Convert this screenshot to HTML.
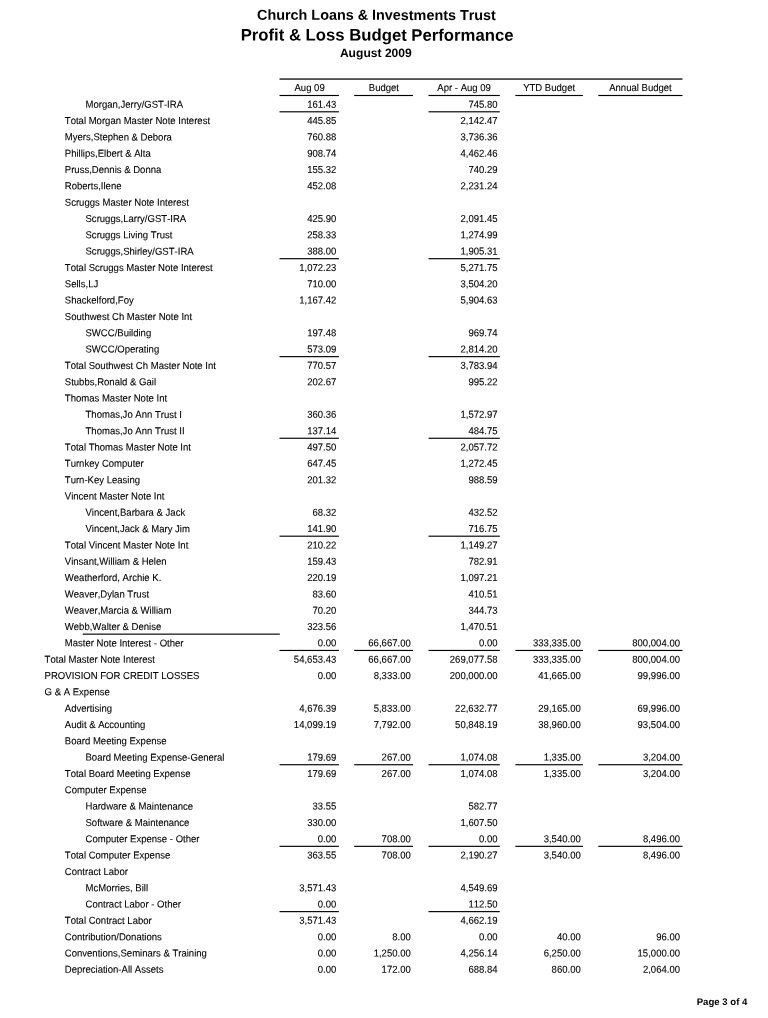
<!DOCTYPE html>
<html lang="en"><head><meta charset="utf-8"><title>Profit &amp; Loss Budget Performance</title>
<style>
html,body{margin:0;padding:0;background:#fff;}
body{width:768px;height:1018px;position:relative;overflow:hidden;font-family:"Liberation Sans",Arial,Helvetica,sans-serif;color:#000;font-kerning:none;}
span{position:absolute;display:block;white-space:nowrap;line-height:20px;height:20px;transform-origin:0 50%;-webkit-text-stroke:0.1px #000;}
.b{font-weight:bold;color:#000;-webkit-text-stroke:0;}
svg{position:absolute;left:0;top:0;}
</style></head><body>
<svg width="768" height="1018" viewBox="0 0 768 1018">
<rect x="279.50" y="78.30" width="403.00" height="1.50" fill="#2a2a2a"/>
<rect x="279.50" y="94.92" width="59.40" height="1.15" fill="#000"/>
<rect x="354.20" y="94.92" width="58.80" height="1.15" fill="#000"/>
<rect x="428.50" y="94.92" width="71.30" height="1.15" fill="#000"/>
<rect x="515.40" y="94.92" width="67.50" height="1.15" fill="#000"/>
<rect x="598.30" y="94.92" width="84.20" height="1.15" fill="#000"/>
<rect x="279.50" y="111.22" width="59.40" height="1.15" fill="#000"/>
<rect x="428.50" y="111.22" width="71.30" height="1.15" fill="#000"/>
<rect x="279.50" y="258.13" width="59.40" height="1.15" fill="#000"/>
<rect x="428.50" y="258.13" width="71.30" height="1.15" fill="#000"/>
<rect x="279.50" y="356.07" width="59.40" height="1.15" fill="#000"/>
<rect x="428.50" y="356.07" width="71.30" height="1.15" fill="#000"/>
<rect x="279.50" y="437.69" width="59.40" height="1.15" fill="#000"/>
<rect x="428.50" y="437.69" width="71.30" height="1.15" fill="#000"/>
<rect x="279.50" y="535.62" width="59.40" height="1.15" fill="#000"/>
<rect x="428.50" y="535.62" width="71.30" height="1.15" fill="#000"/>
<rect x="82.70" y="633.56" width="197.10" height="1.15" fill="#000"/>
<rect x="279.50" y="649.88" width="59.40" height="1.15" fill="#000"/>
<rect x="354.20" y="649.88" width="58.80" height="1.15" fill="#000"/>
<rect x="428.50" y="649.88" width="71.30" height="1.15" fill="#000"/>
<rect x="515.40" y="649.88" width="67.50" height="1.15" fill="#000"/>
<rect x="598.30" y="649.88" width="84.20" height="1.15" fill="#000"/>
<rect x="279.50" y="764.15" width="59.40" height="1.15" fill="#000"/>
<rect x="354.20" y="764.15" width="58.80" height="1.15" fill="#000"/>
<rect x="428.50" y="764.15" width="71.30" height="1.15" fill="#000"/>
<rect x="515.40" y="764.15" width="67.50" height="1.15" fill="#000"/>
<rect x="598.30" y="764.15" width="84.20" height="1.15" fill="#000"/>
<rect x="279.50" y="845.76" width="59.40" height="1.15" fill="#000"/>
<rect x="354.20" y="845.76" width="58.80" height="1.15" fill="#000"/>
<rect x="428.50" y="845.76" width="71.30" height="1.15" fill="#000"/>
<rect x="515.40" y="845.76" width="67.50" height="1.15" fill="#000"/>
<rect x="598.30" y="845.76" width="84.20" height="1.15" fill="#000"/>
<rect x="279.50" y="911.05" width="59.40" height="1.15" fill="#000"/>
<rect x="428.50" y="911.05" width="71.30" height="1.15" fill="#000"/>
</svg>
<header>
<span class="b" style="left:257px;top:4px;font-size:14.380px;transform:matrix(1.00000,0.00055,0,1,0.047,0.800);">Church Loans &amp; Investments Trust</span>
<span class="b" style="left:240px;top:25px;font-size:16.720px;transform:matrix(1.00000,0.00055,0,1,0.632,0.550);">Profit &amp; Loss Budget Performance</span>
<span class="b" style="left:339px;top:42px;font-size:12.100px;transform:matrix(1.00000,0.00055,0,1,0.875,0.900);">August 2009</span>
</header>
<main>
<div class="thead">
<span style="left:294px;top:78px;font-size:10.028px;transform:matrix(0.95238,0.00055,0,1,0.466,0.000);">Aug 09</span>
<span style="left:368px;top:78px;font-size:10.028px;transform:matrix(0.95238,0.00055,0,1,0.766,0.000);">Budget</span>
<span style="left:437px;top:78px;font-size:10.028px;transform:matrix(0.95238,0.00055,0,1,0.342,0.000);">Apr - Aug 09</span>
<span style="left:523px;top:78px;font-size:10.028px;transform:matrix(0.95238,0.00055,0,1,0.139,0.000);">YTD Budget</span>
<span style="left:609px;top:78px;font-size:10.028px;transform:matrix(0.95238,0.00055,0,1,0.171,0.000);">Annual Budget</span>
</div>
<div class="row">
<span style="left:85px;top:94px;font-size:10.028px;transform:matrix(0.95238,0.00055,0,1,0.500,0.700);">Morgan,Jerry/GST-IRA</span>
<span style="left:307px;top:94px;font-size:10.028px;transform:matrix(0.95238,0.00055,0,1,0.140,0.700);">161.43</span>
<span style="left:468px;top:94px;font-size:10.028px;transform:matrix(0.95238,0.00055,0,1,0.390,0.700);">745.80</span>
</div>
<div class="row">
<span style="left:64px;top:111px;font-size:10.028px;transform:matrix(0.95238,0.00055,0,1,0.800,0.023);">Total Morgan Master Note Interest</span>
<span style="left:307px;top:111px;font-size:10.028px;transform:matrix(0.95238,0.00055,0,1,0.140,0.023);">445.85</span>
<span style="left:460px;top:111px;font-size:10.028px;transform:matrix(0.95238,0.00055,0,1,0.426,0.023);">2,142.47</span>
</div>
<div class="row">
<span style="left:64px;top:127px;font-size:10.028px;transform:matrix(0.95238,0.00055,0,1,0.800,0.346);">Myers,Stephen &amp; Debora</span>
<span style="left:307px;top:127px;font-size:10.028px;transform:matrix(0.95238,0.00055,0,1,0.140,0.346);">760.88</span>
<span style="left:460px;top:127px;font-size:10.028px;transform:matrix(0.95238,0.00055,0,1,0.426,0.346);">3,736.36</span>
</div>
<div class="row">
<span style="left:64px;top:143px;font-size:10.028px;transform:matrix(0.95238,0.00055,0,1,0.800,0.669);">Phillips,Elbert &amp; Alta</span>
<span style="left:307px;top:143px;font-size:10.028px;transform:matrix(0.95238,0.00055,0,1,0.140,0.669);">908.74</span>
<span style="left:460px;top:143px;font-size:10.028px;transform:matrix(0.95238,0.00055,0,1,0.426,0.669);">4,462.46</span>
</div>
<div class="row">
<span style="left:64px;top:159px;font-size:10.028px;transform:matrix(0.95238,0.00055,0,1,0.800,0.992);">Pruss,Dennis &amp; Donna</span>
<span style="left:307px;top:159px;font-size:10.028px;transform:matrix(0.95238,0.00055,0,1,0.140,0.992);">155.32</span>
<span style="left:468px;top:159px;font-size:10.028px;transform:matrix(0.95238,0.00055,0,1,0.390,0.992);">740.29</span>
</div>
<div class="row">
<span style="left:64px;top:176px;font-size:10.028px;transform:matrix(0.95238,0.00055,0,1,0.800,0.315);">Roberts,Ilene</span>
<span style="left:307px;top:176px;font-size:10.028px;transform:matrix(0.95238,0.00055,0,1,0.140,0.315);">452.08</span>
<span style="left:460px;top:176px;font-size:10.028px;transform:matrix(0.95238,0.00055,0,1,0.426,0.315);">2,231.24</span>
</div>
<div class="row">
<span style="left:64px;top:192px;font-size:10.028px;transform:matrix(0.95238,0.00055,0,1,0.800,0.638);">Scruggs Master Note Interest</span>
</div>
<div class="row">
<span style="left:85px;top:208px;font-size:10.028px;transform:matrix(0.95238,0.00055,0,1,0.500,0.961);">Scruggs,Larry/GST-IRA</span>
<span style="left:307px;top:208px;font-size:10.028px;transform:matrix(0.95238,0.00055,0,1,0.140,0.961);">425.90</span>
<span style="left:460px;top:208px;font-size:10.028px;transform:matrix(0.95238,0.00055,0,1,0.426,0.961);">2,091.45</span>
</div>
<div class="row">
<span style="left:85px;top:225px;font-size:10.028px;transform:matrix(0.95238,0.00055,0,1,0.500,0.284);">Scruggs Living Trust</span>
<span style="left:307px;top:225px;font-size:10.028px;transform:matrix(0.95238,0.00055,0,1,0.140,0.284);">258.33</span>
<span style="left:460px;top:225px;font-size:10.028px;transform:matrix(0.95238,0.00055,0,1,0.426,0.284);">1,274.99</span>
</div>
<div class="row">
<span style="left:85px;top:241px;font-size:10.028px;transform:matrix(0.95238,0.00055,0,1,0.500,0.607);">Scruggs,Shirley/GST-IRA</span>
<span style="left:307px;top:241px;font-size:10.028px;transform:matrix(0.95238,0.00055,0,1,0.140,0.607);">388.00</span>
<span style="left:460px;top:241px;font-size:10.028px;transform:matrix(0.95238,0.00055,0,1,0.426,0.607);">1,905.31</span>
</div>
<div class="row">
<span style="left:64px;top:257px;font-size:10.028px;transform:matrix(0.95238,0.00055,0,1,0.800,0.930);">Total Scruggs Master Note Interest</span>
<span style="left:299px;top:257px;font-size:10.028px;transform:matrix(0.95238,0.00055,0,1,0.176,0.930);">1,072.23</span>
<span style="left:460px;top:257px;font-size:10.028px;transform:matrix(0.95238,0.00055,0,1,0.426,0.930);">5,271.75</span>
</div>
<div class="row">
<span style="left:64px;top:274px;font-size:10.028px;transform:matrix(0.95238,0.00055,0,1,0.800,0.253);">Sells,LJ</span>
<span style="left:307px;top:274px;font-size:10.028px;transform:matrix(0.95238,0.00055,0,1,0.140,0.253);">710.00</span>
<span style="left:460px;top:274px;font-size:10.028px;transform:matrix(0.95238,0.00055,0,1,0.426,0.253);">3,504.20</span>
</div>
<div class="row">
<span style="left:64px;top:290px;font-size:10.028px;transform:matrix(0.95238,0.00055,0,1,0.800,0.576);">Shackelford,Foy</span>
<span style="left:299px;top:290px;font-size:10.028px;transform:matrix(0.95238,0.00055,0,1,0.176,0.576);">1,167.42</span>
<span style="left:460px;top:290px;font-size:10.028px;transform:matrix(0.95238,0.00055,0,1,0.426,0.576);">5,904.63</span>
</div>
<div class="row">
<span style="left:64px;top:306px;font-size:10.028px;transform:matrix(0.95238,0.00055,0,1,0.800,0.899);">Southwest Ch Master Note Int</span>
</div>
<div class="row">
<span style="left:85px;top:323px;font-size:10.028px;transform:matrix(0.95238,0.00055,0,1,0.500,0.222);">SWCC/Building</span>
<span style="left:307px;top:323px;font-size:10.028px;transform:matrix(0.95238,0.00055,0,1,0.140,0.222);">197.48</span>
<span style="left:468px;top:323px;font-size:10.028px;transform:matrix(0.95238,0.00055,0,1,0.390,0.222);">969.74</span>
</div>
<div class="row">
<span style="left:85px;top:339px;font-size:10.028px;transform:matrix(0.95238,0.00055,0,1,0.500,0.545);">SWCC/Operating</span>
<span style="left:307px;top:339px;font-size:10.028px;transform:matrix(0.95238,0.00055,0,1,0.140,0.545);">573.09</span>
<span style="left:460px;top:339px;font-size:10.028px;transform:matrix(0.95238,0.00055,0,1,0.426,0.545);">2,814.20</span>
</div>
<div class="row">
<span style="left:64px;top:355px;font-size:10.028px;transform:matrix(0.95238,0.00055,0,1,0.800,0.868);">Total Southwest Ch Master Note Int</span>
<span style="left:307px;top:355px;font-size:10.028px;transform:matrix(0.95238,0.00055,0,1,0.140,0.868);">770.57</span>
<span style="left:460px;top:355px;font-size:10.028px;transform:matrix(0.95238,0.00055,0,1,0.426,0.868);">3,783.94</span>
</div>
<div class="row">
<span style="left:64px;top:372px;font-size:10.028px;transform:matrix(0.95238,0.00055,0,1,0.800,0.191);">Stubbs,Ronald &amp; Gail</span>
<span style="left:307px;top:372px;font-size:10.028px;transform:matrix(0.95238,0.00055,0,1,0.140,0.191);">202.67</span>
<span style="left:468px;top:372px;font-size:10.028px;transform:matrix(0.95238,0.00055,0,1,0.390,0.191);">995.22</span>
</div>
<div class="row">
<span style="left:64px;top:388px;font-size:10.028px;transform:matrix(0.95238,0.00055,0,1,0.800,0.514);">Thomas Master Note Int</span>
</div>
<div class="row">
<span style="left:85px;top:404px;font-size:10.028px;transform:matrix(0.95238,0.00055,0,1,0.500,0.837);">Thomas,Jo Ann Trust I</span>
<span style="left:307px;top:404px;font-size:10.028px;transform:matrix(0.95238,0.00055,0,1,0.140,0.837);">360.36</span>
<span style="left:460px;top:404px;font-size:10.028px;transform:matrix(0.95238,0.00055,0,1,0.426,0.837);">1,572.97</span>
</div>
<div class="row">
<span style="left:85px;top:421px;font-size:10.028px;transform:matrix(0.95238,0.00055,0,1,0.500,0.160);">Thomas,Jo Ann Trust II</span>
<span style="left:307px;top:421px;font-size:10.028px;transform:matrix(0.95238,0.00055,0,1,0.140,0.160);">137.14</span>
<span style="left:468px;top:421px;font-size:10.028px;transform:matrix(0.95238,0.00055,0,1,0.390,0.160);">484.75</span>
</div>
<div class="row">
<span style="left:64px;top:437px;font-size:10.028px;transform:matrix(0.95238,0.00055,0,1,0.800,0.483);">Total Thomas Master Note Int</span>
<span style="left:307px;top:437px;font-size:10.028px;transform:matrix(0.95238,0.00055,0,1,0.140,0.483);">497.50</span>
<span style="left:460px;top:437px;font-size:10.028px;transform:matrix(0.95238,0.00055,0,1,0.426,0.483);">2,057.72</span>
</div>
<div class="row">
<span style="left:64px;top:453px;font-size:10.028px;transform:matrix(0.95238,0.00055,0,1,0.800,0.806);">Turnkey Computer</span>
<span style="left:307px;top:453px;font-size:10.028px;transform:matrix(0.95238,0.00055,0,1,0.140,0.806);">647.45</span>
<span style="left:460px;top:453px;font-size:10.028px;transform:matrix(0.95238,0.00055,0,1,0.426,0.806);">1,272.45</span>
</div>
<div class="row">
<span style="left:64px;top:470px;font-size:10.028px;transform:matrix(0.95238,0.00055,0,1,0.800,0.129);">Turn-Key Leasing</span>
<span style="left:307px;top:470px;font-size:10.028px;transform:matrix(0.95238,0.00055,0,1,0.140,0.129);">201.32</span>
<span style="left:468px;top:470px;font-size:10.028px;transform:matrix(0.95238,0.00055,0,1,0.390,0.129);">988.59</span>
</div>
<div class="row">
<span style="left:64px;top:486px;font-size:10.028px;transform:matrix(0.95238,0.00055,0,1,0.800,0.452);">Vincent Master Note Int</span>
</div>
<div class="row">
<span style="left:85px;top:502px;font-size:10.028px;transform:matrix(0.95238,0.00055,0,1,0.500,0.775);">Vincent,Barbara &amp; Jack</span>
<span style="left:312px;top:502px;font-size:10.028px;transform:matrix(0.95238,0.00055,0,1,0.451,0.775);">68.32</span>
<span style="left:468px;top:502px;font-size:10.028px;transform:matrix(0.95238,0.00055,0,1,0.390,0.775);">432.52</span>
</div>
<div class="row">
<span style="left:85px;top:519px;font-size:10.028px;transform:matrix(0.95238,0.00055,0,1,0.500,0.098);">Vincent,Jack &amp; Mary Jim</span>
<span style="left:307px;top:519px;font-size:10.028px;transform:matrix(0.95238,0.00055,0,1,0.140,0.098);">141.90</span>
<span style="left:468px;top:519px;font-size:10.028px;transform:matrix(0.95238,0.00055,0,1,0.390,0.098);">716.75</span>
</div>
<div class="row">
<span style="left:64px;top:535px;font-size:10.028px;transform:matrix(0.95238,0.00055,0,1,0.800,0.421);">Total Vincent Master Note Int</span>
<span style="left:307px;top:535px;font-size:10.028px;transform:matrix(0.95238,0.00055,0,1,0.140,0.421);">210.22</span>
<span style="left:460px;top:535px;font-size:10.028px;transform:matrix(0.95238,0.00055,0,1,0.426,0.421);">1,149.27</span>
</div>
<div class="row">
<span style="left:64px;top:551px;font-size:10.028px;transform:matrix(0.95238,0.00055,0,1,0.800,0.744);">Vinsant,William &amp; Helen</span>
<span style="left:307px;top:551px;font-size:10.028px;transform:matrix(0.95238,0.00055,0,1,0.140,0.744);">159.43</span>
<span style="left:468px;top:551px;font-size:10.028px;transform:matrix(0.95238,0.00055,0,1,0.390,0.744);">782.91</span>
</div>
<div class="row">
<span style="left:64px;top:568px;font-size:10.028px;transform:matrix(0.95238,0.00055,0,1,0.800,0.067);">Weatherford, Archie K.</span>
<span style="left:307px;top:568px;font-size:10.028px;transform:matrix(0.95238,0.00055,0,1,0.140,0.067);">220.19</span>
<span style="left:460px;top:568px;font-size:10.028px;transform:matrix(0.95238,0.00055,0,1,0.426,0.067);">1,097.21</span>
</div>
<div class="row">
<span style="left:64px;top:584px;font-size:10.028px;transform:matrix(0.95238,0.00055,0,1,0.800,0.390);">Weaver,Dylan Trust</span>
<span style="left:312px;top:584px;font-size:10.028px;transform:matrix(0.95238,0.00055,0,1,0.451,0.390);">83.60</span>
<span style="left:468px;top:584px;font-size:10.028px;transform:matrix(0.95238,0.00055,0,1,0.390,0.390);">410.51</span>
</div>
<div class="row">
<span style="left:64px;top:600px;font-size:10.028px;transform:matrix(0.95238,0.00055,0,1,0.800,0.713);">Weaver,Marcia &amp; William</span>
<span style="left:312px;top:600px;font-size:10.028px;transform:matrix(0.95238,0.00055,0,1,0.451,0.713);">70.20</span>
<span style="left:468px;top:600px;font-size:10.028px;transform:matrix(0.95238,0.00055,0,1,0.390,0.713);">344.73</span>
</div>
<div class="row">
<span style="left:64px;top:617px;font-size:10.028px;transform:matrix(0.95238,0.00055,0,1,0.800,0.036);">Webb,Walter &amp; Denise</span>
<span style="left:307px;top:617px;font-size:10.028px;transform:matrix(0.95238,0.00055,0,1,0.140,0.036);">323.56</span>
<span style="left:460px;top:617px;font-size:10.028px;transform:matrix(0.95238,0.00055,0,1,0.426,0.036);">1,470.51</span>
</div>
<div class="row">
<span style="left:64px;top:633px;font-size:10.028px;transform:matrix(0.95238,0.00055,0,1,0.800,0.359);">Master Note Interest - Other</span>
<span style="left:317px;top:633px;font-size:10.028px;transform:matrix(0.95238,0.00055,0,1,0.763,0.359);">0.00</span>
<span style="left:368px;top:633px;font-size:10.028px;transform:matrix(0.95238,0.00055,0,1,0.314,0.359);">66,667.00</span>
<span style="left:479px;top:633px;font-size:10.028px;transform:matrix(0.95238,0.00055,0,1,0.013,0.359);">0.00</span>
<span style="left:533px;top:633px;font-size:10.028px;transform:matrix(0.95238,0.00055,0,1,0.003,0.359);">333,335.00</span>
<span style="left:632px;top:633px;font-size:10.028px;transform:matrix(0.95238,0.00055,0,1,0.253,0.359);">800,004.00</span>
</div>
<div class="row">
<span style="left:44px;top:649px;font-size:10.028px;transform:matrix(0.95238,0.00055,0,1,0.600,0.682);">Total Master Note Interest</span>
<span style="left:293px;top:649px;font-size:10.028px;transform:matrix(0.95238,0.00055,0,1,0.864,0.682);">54,653.43</span>
<span style="left:368px;top:649px;font-size:10.028px;transform:matrix(0.95238,0.00055,0,1,0.314,0.682);">66,667.00</span>
<span style="left:449px;top:649px;font-size:10.028px;transform:matrix(0.95238,0.00055,0,1,0.803,0.682);">269,077.58</span>
<span style="left:533px;top:649px;font-size:10.028px;transform:matrix(0.95238,0.00055,0,1,0.003,0.682);">333,335.00</span>
<span style="left:632px;top:649px;font-size:10.028px;transform:matrix(0.95238,0.00055,0,1,0.253,0.682);">800,004.00</span>
</div>
<div class="row">
<span style="left:44px;top:666px;font-size:10.028px;transform:matrix(0.95238,0.00055,0,1,0.600,0.005);">PROVISION FOR CREDIT LOSSES</span>
<span style="left:317px;top:666px;font-size:10.028px;transform:matrix(0.95238,0.00055,0,1,0.763,0.005);">0.00</span>
<span style="left:373px;top:666px;font-size:10.028px;transform:matrix(0.95238,0.00055,0,1,0.626,0.005);">8,333.00</span>
<span style="left:449px;top:666px;font-size:10.028px;transform:matrix(0.95238,0.00055,0,1,0.803,0.005);">200,000.00</span>
<span style="left:538px;top:666px;font-size:10.028px;transform:matrix(0.95238,0.00055,0,1,0.314,0.005);">41,665.00</span>
<span style="left:637px;top:666px;font-size:10.028px;transform:matrix(0.95238,0.00055,0,1,0.564,0.005);">99,996.00</span>
</div>
<div class="row">
<span style="left:44px;top:682px;font-size:10.028px;transform:matrix(0.95238,0.00055,0,1,0.600,0.328);">G &amp; A Expense</span>
</div>
<div class="row">
<span style="left:64px;top:698px;font-size:10.028px;transform:matrix(0.95238,0.00055,0,1,0.800,0.651);">Advertising</span>
<span style="left:299px;top:698px;font-size:10.028px;transform:matrix(0.95238,0.00055,0,1,0.176,0.651);">4,676.39</span>
<span style="left:373px;top:698px;font-size:10.028px;transform:matrix(0.95238,0.00055,0,1,0.626,0.651);">5,833.00</span>
<span style="left:455px;top:698px;font-size:10.028px;transform:matrix(0.95238,0.00055,0,1,0.114,0.651);">22,632.77</span>
<span style="left:538px;top:698px;font-size:10.028px;transform:matrix(0.95238,0.00055,0,1,0.314,0.651);">29,165.00</span>
<span style="left:637px;top:698px;font-size:10.028px;transform:matrix(0.95238,0.00055,0,1,0.564,0.651);">69,996.00</span>
</div>
<div class="row">
<span style="left:64px;top:714px;font-size:10.028px;transform:matrix(0.95238,0.00055,0,1,0.800,0.974);">Audit &amp; Accounting</span>
<span style="left:293px;top:714px;font-size:10.028px;transform:matrix(0.95238,0.00055,0,1,0.864,0.974);">14,099.19</span>
<span style="left:373px;top:714px;font-size:10.028px;transform:matrix(0.95238,0.00055,0,1,0.626,0.974);">7,792.00</span>
<span style="left:455px;top:714px;font-size:10.028px;transform:matrix(0.95238,0.00055,0,1,0.114,0.974);">50,848.19</span>
<span style="left:538px;top:714px;font-size:10.028px;transform:matrix(0.95238,0.00055,0,1,0.314,0.974);">38,960.00</span>
<span style="left:637px;top:714px;font-size:10.028px;transform:matrix(0.95238,0.00055,0,1,0.564,0.974);">93,504.00</span>
</div>
<div class="row">
<span style="left:64px;top:731px;font-size:10.028px;transform:matrix(0.95238,0.00055,0,1,0.800,0.297);">Board Meeting Expense</span>
</div>
<div class="row">
<span style="left:85px;top:747px;font-size:10.028px;transform:matrix(0.95238,0.00055,0,1,0.500,0.620);">Board Meeting Expense-General</span>
<span style="left:307px;top:747px;font-size:10.028px;transform:matrix(0.95238,0.00055,0,1,0.140,0.620);">179.69</span>
<span style="left:381px;top:747px;font-size:10.028px;transform:matrix(0.95238,0.00055,0,1,0.590,0.620);">267.00</span>
<span style="left:460px;top:747px;font-size:10.028px;transform:matrix(0.95238,0.00055,0,1,0.426,0.620);">1,074.08</span>
<span style="left:543px;top:747px;font-size:10.028px;transform:matrix(0.95238,0.00055,0,1,0.626,0.620);">1,335.00</span>
<span style="left:642px;top:747px;font-size:10.028px;transform:matrix(0.95238,0.00055,0,1,0.876,0.620);">3,204.00</span>
</div>
<div class="row">
<span style="left:64px;top:763px;font-size:10.028px;transform:matrix(0.95238,0.00055,0,1,0.800,0.943);">Total Board Meeting Expense</span>
<span style="left:307px;top:763px;font-size:10.028px;transform:matrix(0.95238,0.00055,0,1,0.140,0.943);">179.69</span>
<span style="left:381px;top:763px;font-size:10.028px;transform:matrix(0.95238,0.00055,0,1,0.590,0.943);">267.00</span>
<span style="left:460px;top:763px;font-size:10.028px;transform:matrix(0.95238,0.00055,0,1,0.426,0.943);">1,074.08</span>
<span style="left:543px;top:763px;font-size:10.028px;transform:matrix(0.95238,0.00055,0,1,0.626,0.943);">1,335.00</span>
<span style="left:642px;top:763px;font-size:10.028px;transform:matrix(0.95238,0.00055,0,1,0.876,0.943);">3,204.00</span>
</div>
<div class="row">
<span style="left:64px;top:780px;font-size:10.028px;transform:matrix(0.95238,0.00055,0,1,0.800,0.266);">Computer Expense</span>
</div>
<div class="row">
<span style="left:85px;top:796px;font-size:10.028px;transform:matrix(0.95238,0.00055,0,1,0.500,0.589);">Hardware &amp; Maintenance</span>
<span style="left:312px;top:796px;font-size:10.028px;transform:matrix(0.95238,0.00055,0,1,0.451,0.589);">33.55</span>
<span style="left:468px;top:796px;font-size:10.028px;transform:matrix(0.95238,0.00055,0,1,0.390,0.589);">582.77</span>
</div>
<div class="row">
<span style="left:85px;top:812px;font-size:10.028px;transform:matrix(0.95238,0.00055,0,1,0.500,0.912);">Software &amp; Maintenance</span>
<span style="left:307px;top:812px;font-size:10.028px;transform:matrix(0.95238,0.00055,0,1,0.140,0.912);">330.00</span>
<span style="left:460px;top:812px;font-size:10.028px;transform:matrix(0.95238,0.00055,0,1,0.426,0.912);">1,607.50</span>
</div>
<div class="row">
<span style="left:85px;top:829px;font-size:10.028px;transform:matrix(0.95238,0.00055,0,1,0.500,0.235);">Computer Expense - Other</span>
<span style="left:317px;top:829px;font-size:10.028px;transform:matrix(0.95238,0.00055,0,1,0.763,0.235);">0.00</span>
<span style="left:381px;top:829px;font-size:10.028px;transform:matrix(0.95238,0.00055,0,1,0.590,0.235);">708.00</span>
<span style="left:479px;top:829px;font-size:10.028px;transform:matrix(0.95238,0.00055,0,1,0.013,0.235);">0.00</span>
<span style="left:543px;top:829px;font-size:10.028px;transform:matrix(0.95238,0.00055,0,1,0.626,0.235);">3,540.00</span>
<span style="left:642px;top:829px;font-size:10.028px;transform:matrix(0.95238,0.00055,0,1,0.876,0.235);">8,496.00</span>
</div>
<div class="row">
<span style="left:64px;top:845px;font-size:10.028px;transform:matrix(0.95238,0.00055,0,1,0.800,0.558);">Total Computer Expense</span>
<span style="left:307px;top:845px;font-size:10.028px;transform:matrix(0.95238,0.00055,0,1,0.140,0.558);">363.55</span>
<span style="left:381px;top:845px;font-size:10.028px;transform:matrix(0.95238,0.00055,0,1,0.590,0.558);">708.00</span>
<span style="left:460px;top:845px;font-size:10.028px;transform:matrix(0.95238,0.00055,0,1,0.426,0.558);">2,190.27</span>
<span style="left:543px;top:845px;font-size:10.028px;transform:matrix(0.95238,0.00055,0,1,0.626,0.558);">3,540.00</span>
<span style="left:642px;top:845px;font-size:10.028px;transform:matrix(0.95238,0.00055,0,1,0.876,0.558);">8,496.00</span>
</div>
<div class="row">
<span style="left:64px;top:861px;font-size:10.028px;transform:matrix(0.95238,0.00055,0,1,0.800,0.881);">Contract Labor</span>
</div>
<div class="row">
<span style="left:85px;top:878px;font-size:10.028px;transform:matrix(0.95238,0.00055,0,1,0.500,0.204);">McMorries, Bill</span>
<span style="left:299px;top:878px;font-size:10.028px;transform:matrix(0.95238,0.00055,0,1,0.176,0.204);">3,571.43</span>
<span style="left:460px;top:878px;font-size:10.028px;transform:matrix(0.95238,0.00055,0,1,0.426,0.204);">4,549.69</span>
</div>
<div class="row">
<span style="left:85px;top:894px;font-size:10.028px;transform:matrix(0.95238,0.00055,0,1,0.500,0.527);">Contract Labor - Other</span>
<span style="left:317px;top:894px;font-size:10.028px;transform:matrix(0.95238,0.00055,0,1,0.763,0.527);">0.00</span>
<span style="left:468px;top:894px;font-size:10.028px;transform:matrix(0.95238,0.00055,0,1,0.390,0.527);">112.50</span>
</div>
<div class="row">
<span style="left:64px;top:910px;font-size:10.028px;transform:matrix(0.95238,0.00055,0,1,0.800,0.850);">Total Contract Labor</span>
<span style="left:299px;top:910px;font-size:10.028px;transform:matrix(0.95238,0.00055,0,1,0.176,0.850);">3,571.43</span>
<span style="left:460px;top:910px;font-size:10.028px;transform:matrix(0.95238,0.00055,0,1,0.426,0.850);">4,662.19</span>
</div>
<div class="row">
<span style="left:64px;top:927px;font-size:10.028px;transform:matrix(0.95238,0.00055,0,1,0.800,0.173);">Contribution/Donations</span>
<span style="left:317px;top:927px;font-size:10.028px;transform:matrix(0.95238,0.00055,0,1,0.763,0.173);">0.00</span>
<span style="left:392px;top:927px;font-size:10.028px;transform:matrix(0.95238,0.00055,0,1,0.213,0.173);">8.00</span>
<span style="left:479px;top:927px;font-size:10.028px;transform:matrix(0.95238,0.00055,0,1,0.013,0.173);">0.00</span>
<span style="left:556px;top:927px;font-size:10.028px;transform:matrix(0.95238,0.00055,0,1,0.901,0.173);">40.00</span>
<span style="left:656px;top:927px;font-size:10.028px;transform:matrix(0.95238,0.00055,0,1,0.151,0.173);">96.00</span>
</div>
<div class="row">
<span style="left:64px;top:943px;font-size:10.028px;transform:matrix(0.95238,0.00055,0,1,0.800,0.496);">Conventions,Seminars &amp; Training</span>
<span style="left:317px;top:943px;font-size:10.028px;transform:matrix(0.95238,0.00055,0,1,0.763,0.496);">0.00</span>
<span style="left:373px;top:943px;font-size:10.028px;transform:matrix(0.95238,0.00055,0,1,0.626,0.496);">1,250.00</span>
<span style="left:460px;top:943px;font-size:10.028px;transform:matrix(0.95238,0.00055,0,1,0.426,0.496);">4,256.14</span>
<span style="left:543px;top:943px;font-size:10.028px;transform:matrix(0.95238,0.00055,0,1,0.626,0.496);">6,250.00</span>
<span style="left:637px;top:943px;font-size:10.028px;transform:matrix(0.95238,0.00055,0,1,0.564,0.496);">15,000.00</span>
</div>
<div class="row">
<span style="left:64px;top:959px;font-size:10.028px;transform:matrix(0.95238,0.00055,0,1,0.800,0.819);">Depreciation-All Assets</span>
<span style="left:317px;top:959px;font-size:10.028px;transform:matrix(0.95238,0.00055,0,1,0.763,0.819);">0.00</span>
<span style="left:381px;top:959px;font-size:10.028px;transform:matrix(0.95238,0.00055,0,1,0.590,0.819);">172.00</span>
<span style="left:468px;top:959px;font-size:10.028px;transform:matrix(0.95238,0.00055,0,1,0.390,0.819);">688.84</span>
<span style="left:551px;top:959px;font-size:10.028px;transform:matrix(0.95238,0.00055,0,1,0.590,0.819);">860.00</span>
<span style="left:642px;top:959px;font-size:10.028px;transform:matrix(0.95238,0.00055,0,1,0.876,0.819);">2,064.00</span>
</div>
</main>
<footer>
<span class="b" style="left:696px;top:992px;font-size:9.600px;transform:matrix(1.00000,0.00055,0,1,0.713,0.000);">Page 3 of 4</span>
</footer>
</body></html>
